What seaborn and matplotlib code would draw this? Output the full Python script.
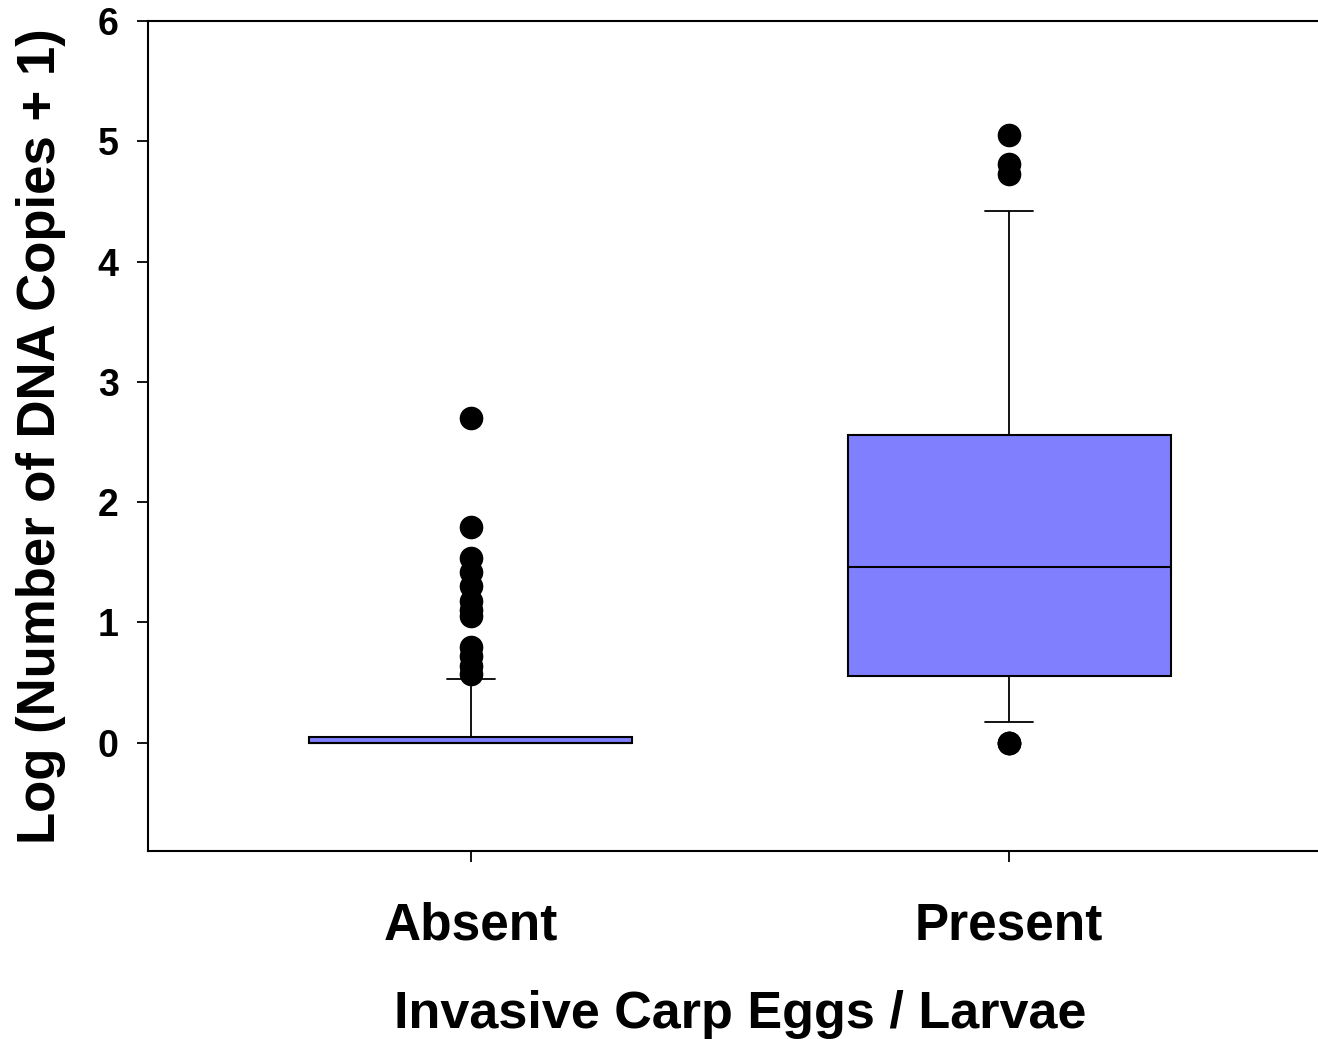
import numpy as np
import pandas as pd
import matplotlib
matplotlib.use("Agg")
import matplotlib.pyplot as plt
import seaborn as sns

# Log10(DNA copies + 1) per sample, grouped by whether carp eggs/larvae were found
categories = ["Absent", "Present"]

absent_zero_count = 61  # samples with no detectable DNA
absent_low = [0.004, 0.004, 0.009, 0.009, 0.013, 0.013, 0.017, 0.017, 0.021, 0.021,
              0.025, 0.025, 0.025, 0.029, 0.029, 0.033, 0.033, 0.033, 0.037, 0.037,
              0.037, 0.041, 0.041, 0.041, 0.045, 0.045, 0.045, 0.048, 0.048, 0.05]
absent_mid = [0.06, 0.07, 0.08, 0.09, 0.10, 0.12, 0.14, 0.16, 0.18, 0.21,
              0.24, 0.27, 0.30, 0.34, 0.38, 0.42, 0.47, 0.53]
absent_high = [0.57, 0.64, 0.72, 0.80, 1.05, 1.10, 1.18, 1.30, 1.42, 1.54, 1.79, 2.70]

present_values = [0.0, 0.0, 0.0, 0.175, 0.28, 0.36, 0.45, 0.53, 0.584, 0.70,
                  0.85, 0.98, 1.12, 1.25, 1.38, 1.46, 1.62, 1.80, 1.95, 2.10,
                  2.25, 2.40, 2.50, 2.62, 2.90, 3.30, 3.85, 4.42, 4.73, 4.81, 5.05]

y_ticks = [0, 1, 2, 3, 4, 5, 6]

absent_values = [0.0] * absent_zero_count + absent_low + absent_mid + absent_high
df = pd.DataFrame({
    "group": [categories[0]] * len(absent_values) + [categories[1]] * len(present_values),
    "value": absent_values + present_values,
})

sns.set_style("ticks")
plt.rcParams["font.family"] = ["Liberation Sans", "DejaVu Sans"]
plt.rcParams["font.weight"] = "bold"
plt.rcParams["text.color"] = "black"
plt.rcParams["axes.labelcolor"] = "black"
plt.rcParams["xtick.color"] = "black"
plt.rcParams["ytick.color"] = "black"

fig = plt.figure(figsize=(13.18, 10.39), dpi=100)
ax = fig.add_axes([0.1123, 0.1809, 0.8877, 0.7989])

sns.boxplot(
    data=df, x="group", y="value", order=categories, ax=ax,
    whis=(10, 90), width=0.6, color="#8080FF", saturation=1,
    linecolor="black", linewidth=1.5,
    capwidths=0.09,
    flierprops=dict(marker="o", markersize=16, markerfacecolor="black",
                    markeredgecolor="black"),
    medianprops=dict(color="black", linewidth=1.5),
    whiskerprops=dict(color="black", linewidth=1.3),
    capprops=dict(color="black", linewidth=1.3),
    boxprops=dict(edgecolor="black", linewidth=1.5),
)

ax.set_xlim(-0.6, 1.574)
ax.set_ylim(-0.9, 6.0)
ax.set_yticks(y_ticks)
ax.set_yticklabels([str(t) for t in y_ticks], fontsize=27, fontweight="bold",
                   color="black")
ax.set_xticks(range(len(categories)))
ax.set_xticklabels(categories, fontsize=37, fontweight="bold", color="black")

for side in ["left", "bottom", "top"]:
    ax.spines[side].set_visible(True)
    ax.spines[side].set_linewidth(1.5)
    ax.spines[side].set_color("black")
ax.spines["right"].set_visible(False)

ax.tick_params(axis="both", direction="out", length=8, width=1.3, color="black")
ax.tick_params(axis="y", pad=13)
ax.tick_params(axis="x", pad=28)

ax.set_ylabel("Log (Number of DNA Copies + 1)", fontsize=38, fontweight="bold",
              color="black")
ax.set_xlabel("Invasive Carp Eggs / Larvae", fontsize=37.5, fontweight="bold",
              color="black")
ax.yaxis.set_label_coords(-0.07, 0.5)
ax.xaxis.set_label_coords(0.506, -0.167)

fig.savefig("out.png", dpi=100, facecolor="white")
